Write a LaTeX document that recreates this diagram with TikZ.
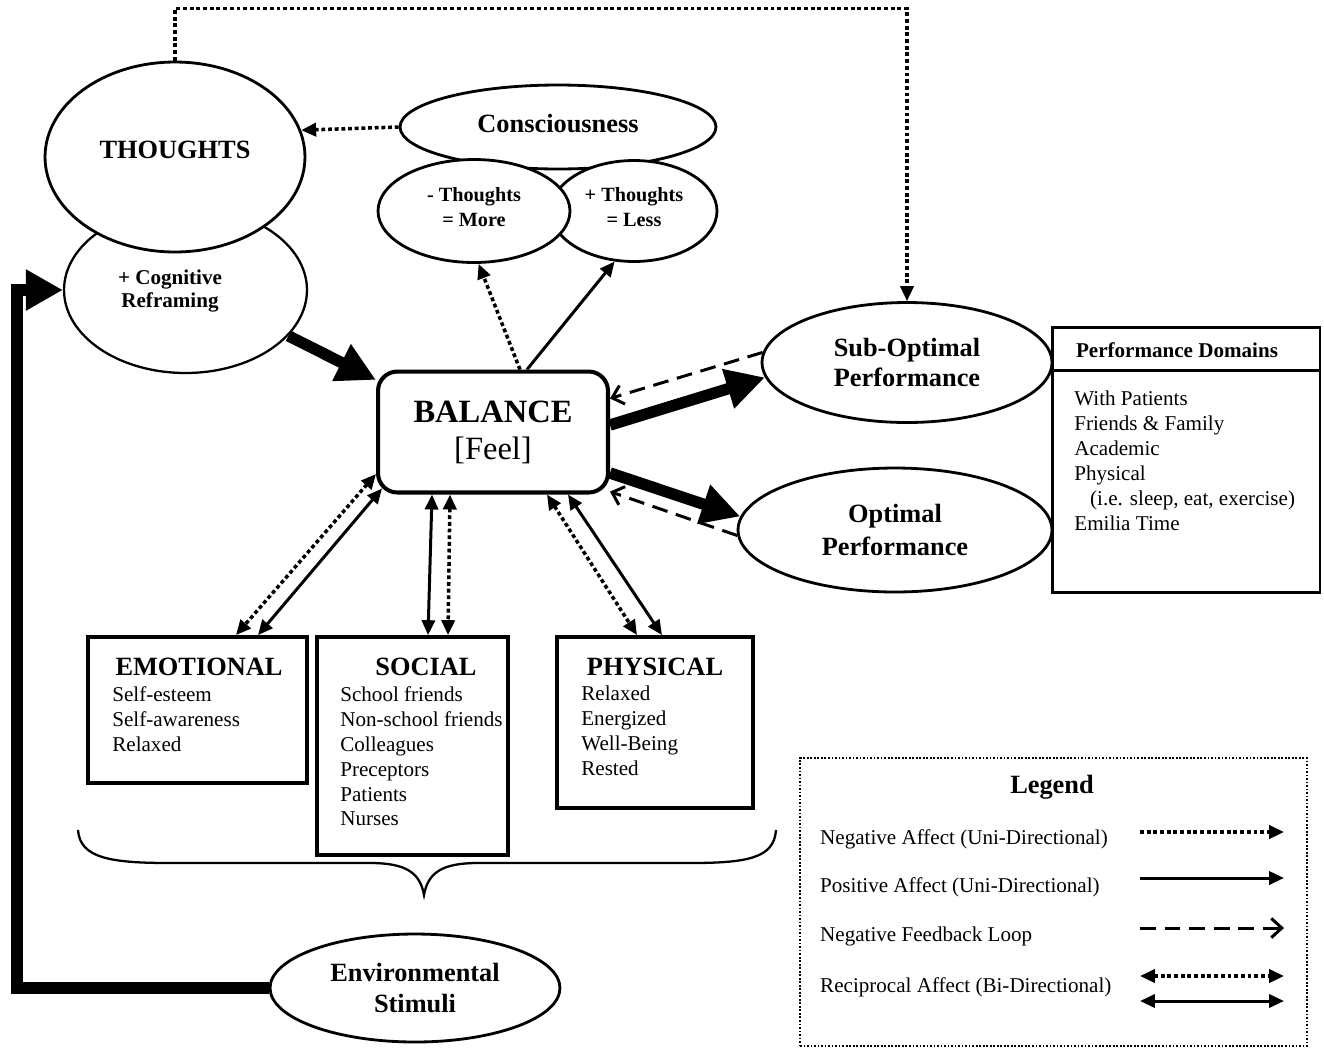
\documentclass[tikz,border=0pt]{standalone}
\usepackage{fontspec}
\setmainfont{Liberation Serif}
\usetikzlibrary{shapes.geometric,arrows.meta}
\tikzset{
  tri/.tip={Triangle[length=8.5pt,width=7.5pt]},
  barb/.tip={Straight Barb[length=6pt,width=11pt]},
  ell/.style={ellipse,draw,fill=white,line width=1.6pt,inner sep=0pt,align=center},
  box/.style={rectangle,draw,fill=white,line width=2.2pt,inner sep=0pt},
  fbig/.style={font=\fontsize{15}{17}\selectfont\bfseries},
  fitem/.style={font=\fontsize{12}{14.2}\selectfont},
  conn/.style={line width=1.7pt},
  dotline/.style={line width=2pt,dash pattern=on 2.2pt off 1.6pt},
  dashline/.style={line width=1.7pt,dash pattern=on 9pt off 5pt},
  thickarrow/.style={line width=6.5pt,-{Triangle[length=22pt,width=22pt]}},
}
\begin{document}
\begin{tikzpicture}[x=0.02cm,y=-0.02cm,line join=miter]
\useasboundingbox (0,0) rectangle (1324,1049);

% ellipses
\node[ell,line width=1.3pt,minimum width=4.86cm,minimum height=3.32cm] (cog) at (185.5,290) {};
\node[font=\fontsize{12}{13.6}\selectfont\bfseries,align=center] (cogtxt) at (170,291) {+ Cognitive\\Reframing};
\node[ell,fbig,text depth=8pt,minimum width=5.2cm,minimum height=3.8cm] (thoughts) at (175,157) {THOUGHTS};
\node[ell,fbig,text depth=4pt,minimum width=6.32cm,minimum height=1.68cm] (consc) at (558,127) {Consciousness};
\node[ell,font=\fontsize{11.5}{14}\selectfont\bfseries,text depth=4.5pt,minimum width=3.32cm,minimum height=2.02cm] (tplus) at (634,211) {+ Thoughts\\= Less};
\node[ell,font=\fontsize{11.5}{14}\selectfont\bfseries,text depth=4.5pt,minimum width=3.84cm,minimum height=2.06cm] (tminus) at (474,211) {- Thoughts\\= More};

% balance
\node[box,rounded corners=11pt,line width=2.3pt,minimum width=4.6cm,minimum height=2.42cm,align=center,font=\fontsize{18.5}{21}\selectfont] (bal) at (493,432) {\textbf{BALANCE}\\{[Feel]}};

% performance
\node[ell,font=\fontsize{15}{17}\selectfont\bfseries,minimum width=5.8cm,minimum height=2.4cm] (subopt) at (907,362.5) {Sub-Optimal\\Performance};
\node[ell,font=\fontsize{15}{19}\selectfont\bfseries,minimum width=6.28cm,minimum height=2.48cm] (opt) at (895,530) {Optimal\\Performance};

\node[box,line width=1.7pt,minimum width=5.36cm,minimum height=5.32cm] (perf) at (1186,460) {};
\draw[line width=1.7pt] ([yshift=-0.9cm]perf.north west) -- ([yshift=-0.9cm]perf.north east);
\node[font=\fontsize{12}{14}\selectfont\bfseries] (perfhead) at (1177,350) {Performance Domains};
\node[fitem,anchor=north west,inner sep=0pt,align=left] (perfitems) at (1074,391) {With Patients\\Friends \& Family\\Academic\\Physical\\\hspace*{9pt}(i.e. sleep, eat, exercise)\\Emilia Time};

% domain boxes
\node[box,minimum width=4.38cm,minimum height=2.92cm] (emo) at (197.5,710) {};
\node[fbig] (emotitle) at (199,667) {EMOTIONAL};
\node[fitem,anchor=north west,inner sep=0pt,align=left] (emoitems) at (112,686) {Self-esteem\\Self-awareness\\Relaxed};

\node[box,minimum width=3.82cm,minimum height=4.36cm] (soc) at (412.5,746) {};
\node[fbig] (soctitle) at (426,667) {SOCIAL};
\node[fitem,anchor=north west,inner sep=0pt,align=left] (socitems) at (340,686) {School friends\\Non-school friends\\Colleagues\\Preceptors\\Patients\\Nurses};

\node[box,minimum width=3.92cm,minimum height=3.42cm] (phy) at (655,722.5) {};
\node[fbig] (phytitle) at (655,667) {PHYSICAL};
\node[fitem,anchor=north west,inner sep=0pt,align=left] (phyitems) at (581,686) {Relaxed\\Energized\\Well-Being\\Rested};

% brace
\draw[line width=1.3pt] (78,830) .. controls (80,858) and (110,863) .. (170,863) -- (370,863) .. controls (405,863) and (420,872) .. (424,895) .. controls (428,872) and (443,863) .. (478,863) -- (690,863) .. controls (748,863) and (774,858) .. (776,830);

% environment
\node[ell,font=\fontsize{15}{18}\selectfont\bfseries,minimum width=5.8cm,minimum height=2.16cm] (env) at (415,988) {Environmental\\Stimuli};

% legend
\node[draw,line width=1pt,dash pattern=on 1pt off 1pt,minimum width=10.14cm,minimum height=5.76cm,inner sep=0pt] (legend) at (1053.5,902) {};
\node[fbig] (legtitle) at (1052,787) {Legend};
\node[fitem,anchor=west] (leg1) at (814,839) {Negative Affect (Uni-Directional)};
\node[fitem,anchor=west] (leg2) at (814,887) {Positive Affect (Uni-Directional)};
\node[fitem,anchor=west] (leg3) at (814,936) {Negative Feedback Loop};
\node[fitem,anchor=west] (leg4) at (814,987) {Reciprocal Affect (Bi-Directional)};
\coordinate (la1) at (1140,832); \coordinate (lb1) at (1284,832);
\coordinate (la2) at (1140,878); \coordinate (lb2) at (1284,878);
\coordinate (la3) at (1140,928); \coordinate (lb3) at (1284,928);
\coordinate (la4) at (1140,976); \coordinate (lb4) at (1284,976);
\coordinate (la5) at (1140,1001); \coordinate (lb5) at (1284,1001);
\draw[dotline,-tri] (la1) -- (lb1);
\draw[conn,-tri] (la2) -- (lb2);
\draw[dashline,-barb] (la3) -- (lb3);
\draw[dotline,tri-tri] (la4) -- (lb4);
\draw[conn,tri-tri] (la5) -- (lb5);

% connectors
\draw[dotline,line width=1.8pt,-tri] (thoughts.north) -- ++(0,-52) -| (subopt.north);
\draw[dotline,-tri] (consc.west) -- (thoughts.12);
\draw[thickarrow] (cog.-24) -- (bal.156);
\coordinate (fbcorner) at (17,290);
\draw[line width=7pt,-{Triangle[length=21pt,width=22pt]}] (env.west) -| (fbcorner) -- (cog.west);

\draw[dotline,-tri] ([xshift=0.54cm]bal.north) -- (tminus.-85.5);
\draw[conn,-tri] ([xshift=0.68cm]bal.north) -- (tplus.-111);
\draw[thickarrow] ([yshift=0.14cm]bal.east) -- (subopt.186);
\draw[thickarrow] ([yshift=-0.82cm]bal.east) -- (opt.175);
\draw[dashline,-barb] (subopt.176) -- (bal.16.5);
\draw[dashline,-barb] (opt.182) -- (bal.-27.5);

\draw[dotline,tri-tri] ([yshift=-0.84cm]bal.west) -- ([xshift=0.77cm]emo.north);
\draw[conn,tri-tri] ([xshift=0.12cm,yshift=0.12cm]bal.south west) -- ([xshift=1.21cm]emo.north);
\draw[conn,tri-tri] ([xshift=-1.22cm]bal.south) -- ([xshift=0.31cm]soc.north);
\draw[dotline,tri-tri] ([xshift=-0.86cm]bal.south) -- ([xshift=0.71cm]soc.north);
\draw[dotline,tri-tri] ([xshift=1.08cm]bal.south) -- ([xshift=-0.36cm]phy.north);
\draw[conn,tri-tri] ([xshift=1.5cm]bal.south) -- ([xshift=0.14cm]phy.north);
\end{tikzpicture}
\end{document}
